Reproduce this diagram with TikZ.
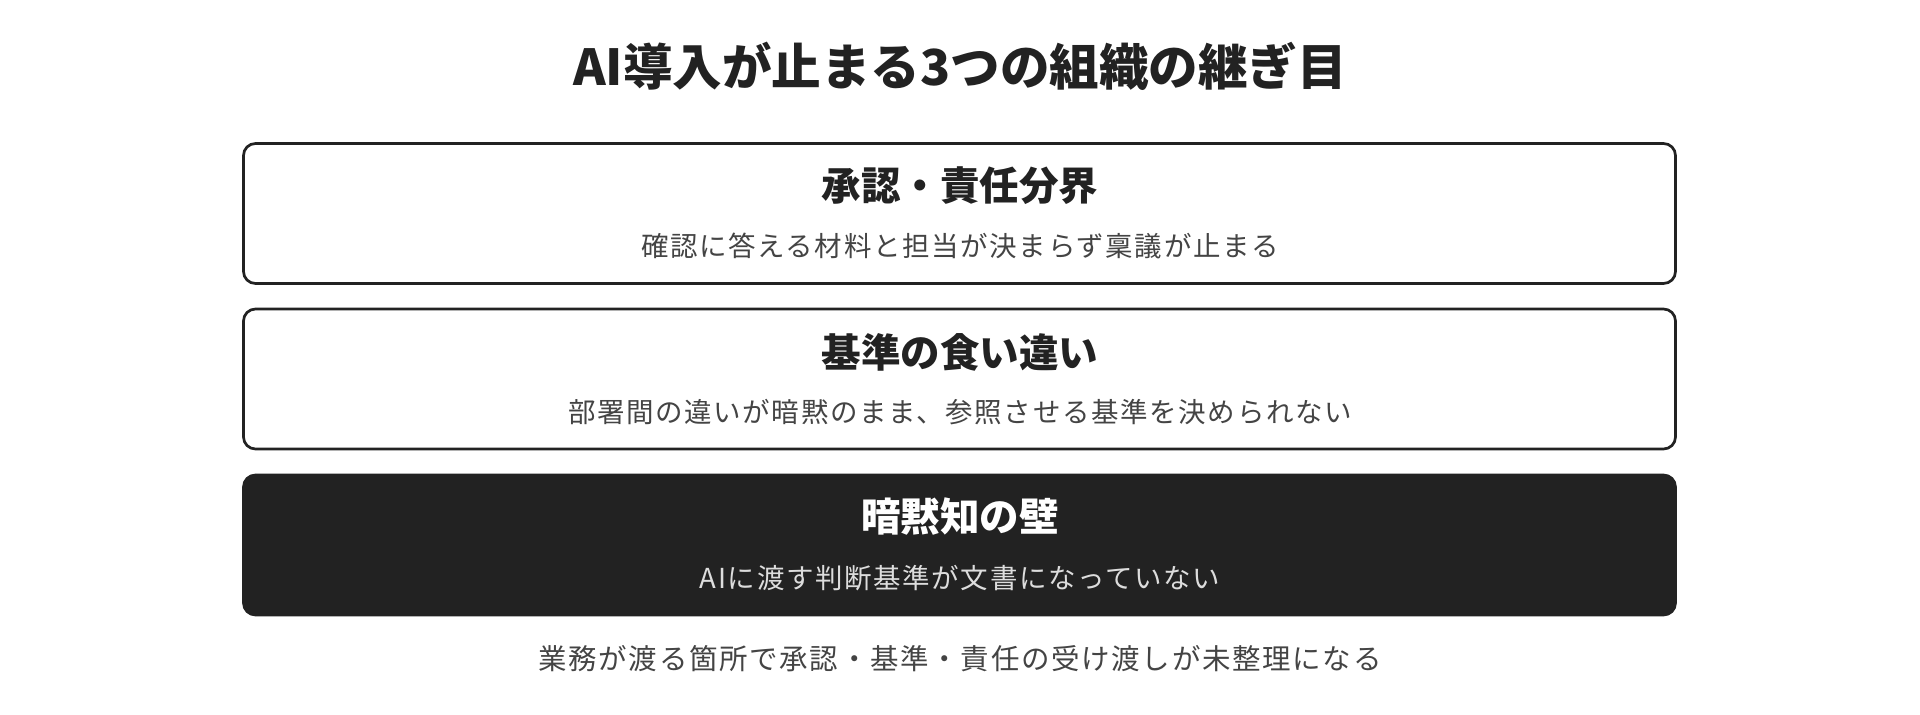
\documentclass[tikz,border=0pt]{standalone}
\usepackage{fontspec}
\setmainfont{Noto Sans CJK JP}
\newfontfamily\subjp[LetterSpace=6]{Noto Sans CJK JP}
\newfontfamily\notejp[LetterSpace=6]{Noto Sans CJK JP}
\definecolor{ink}{HTML}{222222}
\definecolor{subgray}{HTML}{444444}
\definecolor{paleink}{HTML}{DDDDDD}
\begin{document}
\begin{tikzpicture}[x=0.1mm,y=-0.1mm]
   \useasboundingbox (0,0) rectangle (1920,715);
   \node[text=ink,font=\fontsize{14.1pt}{16pt}\selectfont\bfseries] (title) at (960,66) {AI導入が止まる3つの組織の継ぎ目};
   \begin{scope}[every node/.style={rounded corners=1.2mm,minimum width=143.2mm,minimum height=14mm,line width=0.27mm,draw=ink}]
    \node[fill=white] (b1) at (959.5,213.5) {};
    \node[fill=white] (b2) at (959.5,379) {};
    \node[fill=ink] (b3) at (959.5,545) {};
   \end{scope}
   \begin{scope}[every node/.style={font=\fontsize{11.25pt}{13pt}\selectfont\bfseries}]
    \node[text=ink] (h1) at (960,186) {承認・責任分界};
    \node[text=ink] (h2) at (960,352) {基準の食い違い};
    \node[text=white] (h3) at (960,517) {暗黙知の壁};
   \end{scope}
   \begin{scope}[every node/.style={font=\fontsize{7.82pt}{9pt}\subjp}]
    \node[text=subgray] (s1) at (960,246) {確認に答える材料と担当が決まらず稟議が止まる};
    \node[text=subgray] (s2) at (960,412) {部署間の違いが暗黙のまま、参照させる基準を決められない};
    \node[text=paleink] (s3) at (960,578) {AIに渡す判断基準が文書になっていない};
    \node[text=subgray,font=\fontsize{8.1pt}{9pt}\notejp] (note) at (960,659) {業務が渡る箇所で承認・基準・責任の受け渡しが未整理になる};
   \end{scope}
\end{tikzpicture}
\end{document}
